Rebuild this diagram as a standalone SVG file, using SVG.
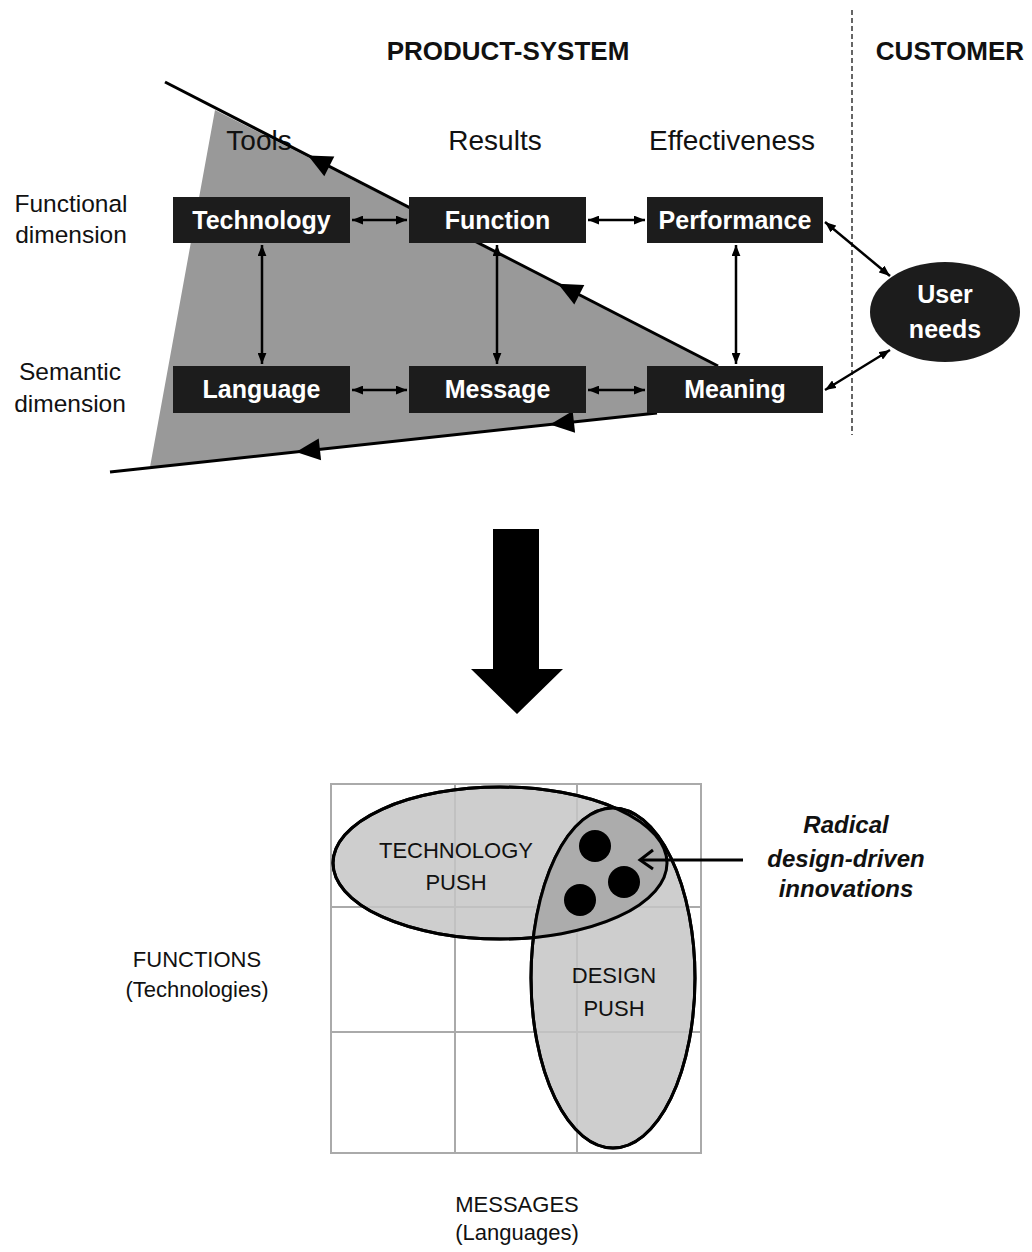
<svg xmlns="http://www.w3.org/2000/svg" width="1032" height="1252" viewBox="0 0 1032 1252">
<style>
text{font-family:"Liberation Sans",Arial,sans-serif;fill:#111;text-anchor:middle}
.title{font-size:26px;font-weight:bold}
.col{font-size:28px}
.side{font-size:24.5px}
.box{fill:#1c1c1c}
.bl{font-size:25px;font-weight:bold;fill:#fff}
.lbl{font-size:22px}
.rad{font-size:24px;font-weight:bold;font-style:italic}
.conn{stroke:#000;stroke-width:2.5;fill:none;marker-start:url(#ah);marker-end:url(#ah)}
.grid{stroke:#aaa;stroke-width:2;fill:none}
</style>
<defs>
<marker id="ah" viewBox="0 0 10 8" refX="10" refY="4" markerWidth="11" markerHeight="9" markerUnits="userSpaceOnUse" orient="auto-start-reverse">
<path d="M0,0 L10,4 L0,8 z" fill="#000"/>
</marker>
<clipPath id="techClip"><ellipse cx="500" cy="863" rx="167" ry="76"/></clipPath>
</defs>
<rect width="1032" height="1252" fill="#fff"/>

<g id="headers">
<text class="title" x="508" y="60">PRODUCT-SYSTEM</text>
<text class="title" x="950" y="60">CUSTOMER</text>
<line x1="852" y1="10" x2="852" y2="435" stroke="#000" stroke-width="1.2" stroke-dasharray="5,3"/>
</g>

<g id="triangle">
<polygon points="215,110 718,366 718,413 657,413 150,467" fill="#999"/>
</g>

<g id="columns">
<text class="col" x="259" y="150">Tools</text>
<text class="col" x="495" y="150">Results</text>
<text class="col" x="732" y="150">Effectiveness</text>
</g>

<g id="side-labels">
<text class="side" x="71" y="212">Functional</text>
<text class="side" x="71" y="243">dimension</text>
<text class="side" x="70" y="380">Semantic</text>
<text class="side" x="70" y="412">dimension</text>
</g>

<g id="flow-lines">
<line x1="165" y1="82" x2="718" y2="366" stroke="#000" stroke-width="3"/>
<line x1="110" y1="472" x2="657" y2="413" stroke="#000" stroke-width="3"/>
<polygon points="308,155.4 334.3,156.6 324.3,176.2" fill="#000"/>
<polygon points="558,283.8 584.3,285 574.3,304.6" fill="#000"/>
<polygon points="296,451.9 321.1,460.2 318.7,438.4" fill="#000"/>
<polygon points="550,424.5 575.1,432.8 572.7,411" fill="#000"/>
</g>

<g id="connectors">
<line class="conn" x1="352" y1="220" x2="407" y2="220"/>
<line class="conn" x1="588" y1="220" x2="645" y2="220"/>
<line class="conn" x1="352" y1="390" x2="407" y2="390"/>
<line class="conn" x1="588" y1="390" x2="645" y2="390"/>
<line class="conn" x1="262" y1="245" x2="262" y2="364"/>
<line class="conn" x1="497" y1="245" x2="497" y2="364"/>
<line class="conn" x1="736" y1="245" x2="736" y2="364"/>
<line class="conn" x1="825" y1="222" x2="890" y2="276"/>
<line class="conn" x1="825" y1="390" x2="890" y2="350"/>
</g>

<g id="technology"><rect class="box" x="173" y="197" width="177" height="46"/><text class="bl" x="261.5" y="229">Technology</text></g>
<g id="function"><rect class="box" x="409" y="197" width="177" height="46"/><text class="bl" x="497.5" y="229">Function</text></g>
<g id="performance"><rect class="box" x="647" y="197" width="176" height="46"/><text class="bl" x="735" y="229">Performance</text></g>
<g id="language"><rect class="box" x="173" y="366" width="177" height="47"/><text class="bl" x="261.5" y="398">Language</text></g>
<g id="message"><rect class="box" x="409" y="366" width="177" height="47"/><text class="bl" x="497.5" y="398">Message</text></g>
<g id="meaning"><rect class="box" x="647" y="366" width="176" height="47"/><text class="bl" x="735" y="398">Meaning</text></g>
<g id="user-needs"><ellipse cx="945" cy="312" rx="75" ry="50" fill="#1c1c1c"/><text class="bl" x="945" y="303">User</text><text class="bl" x="945" y="338">needs</text></g>

<g id="big-arrow">
<polygon points="493,529 539,529 539,669 563,669 517,714 471,669 493,669" fill="#000"/>
</g>

<g id="grid">
<rect class="grid" x="331" y="784" width="370" height="369"/>
<line class="grid" x1="455" y1="784" x2="455" y2="1153"/>
<line class="grid" x1="577" y1="784" x2="577" y2="1153"/>
<line class="grid" x1="331" y1="907" x2="701" y2="907"/>
<line class="grid" x1="331" y1="1032" x2="701" y2="1032"/>
</g>

<g id="technology-push">
<ellipse cx="500" cy="863" rx="167" ry="76" fill="#c6c6c6" fill-opacity="0.85" stroke="#000" stroke-width="3"/>
</g>
<g id="design-push">
<ellipse cx="613" cy="978" rx="82" ry="170" fill="#c6c6c6" fill-opacity="0.85" stroke="#000" stroke-width="3"/>
<ellipse cx="613" cy="978" rx="82" ry="170" fill="#a9a9a9" fill-opacity="0.9" clip-path="url(#techClip)"/>
<ellipse cx="500" cy="863" rx="167" ry="76" fill="none" stroke="#000" stroke-width="3"/>
<ellipse cx="613" cy="978" rx="82" ry="170" fill="none" stroke="#000" stroke-width="3"/>
</g>

<g id="push-labels">
<text class="lbl" x="456" y="858">TECHNOLOGY</text>
<text class="lbl" x="456" y="890">PUSH</text>
<text class="lbl" x="614" y="983">DESIGN</text>
<text class="lbl" x="614" y="1016">PUSH</text>
</g>

<g id="innovations">
<circle cx="595" cy="846" r="16" fill="#000"/>
<circle cx="624" cy="882" r="16" fill="#000"/>
<circle cx="580" cy="900" r="16" fill="#000"/>
<line x1="743" y1="860" x2="641" y2="860" stroke="#000" stroke-width="3"/>
<polyline points="653,850 640,860 653,869" fill="none" stroke="#000" stroke-width="3"/>
<text class="rad" x="846" y="833">Radical</text>
<text class="rad" x="846" y="867">design-driven</text>
<text class="rad" x="846" y="897">innovations</text>
</g>

<g id="axes">
<text class="lbl" x="197" y="967">FUNCTIONS</text>
<text class="lbl" x="197" y="997">(Technologies)</text>
<text class="lbl" x="517" y="1212">MESSAGES</text>
<text class="lbl" x="517" y="1240">(Languages)</text>
</g>
</svg>
